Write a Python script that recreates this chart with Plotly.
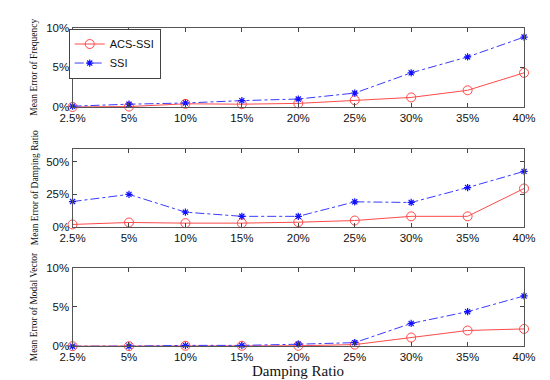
import plotly.graph_objects as go

categories = ["2.5%", "5%", "10%", "15%", "20%", "25%", "30%", "35%", "40%"]
freq_acs = [0.0, 0.05, 0.4, 0.35, 0.45, 0.85, 1.2, 2.1, 4.3]
freq_ssi = [0.1, 0.35, 0.5, 0.8, 1.0, 1.75, 4.3, 6.3, 8.8]
damp_acs = [2.0, 3.5, 3.0, 3.0, 3.7, 5.0, 8.2, 8.2, 29.5]
damp_ssi = [19.5, 25.0, 11.4, 8.2, 8.2, 19.3, 18.8, 30.2, 42.6]
modal_acs = [0.0, 0.0, 0.05, 0.05, 0.05, 0.2, 1.1, 2.0, 2.2]
modal_ssi = [0.0, 0.0, 0.1, 0.1, 0.25, 0.45, 2.9, 4.4, 6.4]

panels = [
    ("Mean Error of Frequency", freq_acs, freq_ssi, [0, 10], [0, 5, 10]),
    ("Mean Error of Damping Ratio", damp_acs, damp_ssi, [0, 60], [0, 25, 50]),
    ("Mean Error of Modal Vector", modal_acs, modal_ssi, [0, 10], [0, 5, 10]),
]

W, H = 550, 380
x0, x1 = 54, 527
tops = [14, 139, 262]
bots = [96, 220, 343]

xs = list(range(len(categories)))
fig = go.Figure()
RED = "#ff4a4a"
BLUE = "#3a3aff"

for i, (title, acs, ssi, yr, yt) in enumerate(panels):
    n = "" if i == 0 else str(i + 1)
    fig.add_trace(go.Scatter(
        x=xs, y=acs, mode="lines+markers", name="ACS-SSI",
        line=dict(color=RED, width=1),
        marker=dict(symbol="circle-open", size=9, color=RED, line=dict(width=1)),
        xaxis="x" + n, yaxis="y" + n, showlegend=(i == 0), cliponaxis=False))
    fig.add_trace(go.Scatter(
        x=xs, y=ssi, mode="lines+markers", name="SSI",
        line=dict(color=BLUE, width=1, dash="dashdot"),
        marker=dict(symbol="asterisk-open", size=6, color="#1010ff", line=dict(width=1.2, color="#1010ff")),
        xaxis="x" + n, yaxis="y" + n, showlegend=(i == 0), cliponaxis=False))
    dom_y = [1 - bots[i] / H, 1 - tops[i] / H]
    fig.layout["xaxis" + n] = dict(
        domain=[x0 / W, x1 / W], range=[0, 8], anchor="y" + n,
        tickmode="array", tickvals=xs, ticktext=categories,
        ticks="inside", ticklen=4, tickcolor="#444", mirror="ticks",
        showline=True, linecolor="#555", linewidth=1, showgrid=False, zeroline=False,
        tickfont=dict(family="Liberation Sans, Arial", size=11.5, color="#111"))
    fig.layout["yaxis" + n] = dict(
        domain=dom_y, range=yr, anchor="x" + n,
        tickmode="array", tickvals=yt, ticktext=[f"{v}%" for v in yt],
        ticks="inside", ticklen=4, tickcolor="#444", mirror="ticks",
        showline=True, linecolor="#555", linewidth=1, showgrid=False, zeroline=False,
        tickfont=dict(family="Liberation Sans, Arial", size=11.5, color="#111"))
    fig.add_annotation(
        text=title, textangle=-90, xref="paper", yref="paper",
        x=14 / W, y=1 - (tops[i] + bots[i]) / 2 / H + 0.0,
        showarrow=False, xanchor="center", yanchor="middle",
        font=dict(family="Liberation Serif, Times New Roman", size=9.5, color="#111"))

fig.add_annotation(
    text="Damping Ratio", xref="paper", yref="paper",
    x=290 / W, y=1 - 369 / H, showarrow=False, xanchor="center", yanchor="middle",
    font=dict(family="Liberation Serif, Times New Roman", size=15, color="#111"))

fig.update_layout(
    width=W, height=H, margin=dict(l=0, r=0, t=0, b=0),
    paper_bgcolor="white", plot_bgcolor="white",
    legend=dict(x=50 / W, y=1 - 15 / H, xanchor="left", yanchor="top",
                bordercolor="#444", borderwidth=1, bgcolor="white",
                font=dict(family="Liberation Sans, Arial", size=11, color="#111"),
                tracegroupgap=0, itemwidth=30, entrywidth=70),
)

fig.write_html("out.html")
